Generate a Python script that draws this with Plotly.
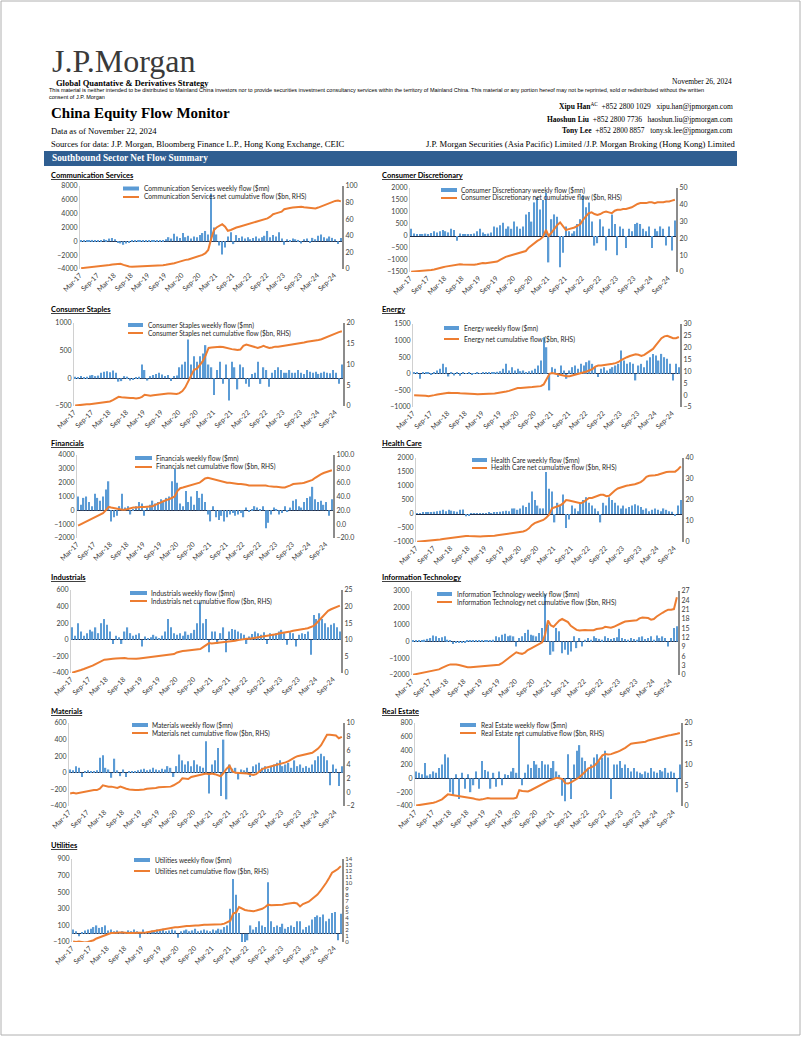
import plotly.graph_objects as go
import pandas as pd

W, H = 802, 1037
BLUE = "#5B9BD5"
ORANGE = "#ED7D31"
FONT = "Lato"
SERIF = "Liberation Serif"

# ---------------- data (monthly readings of weekly flow $mn and cumulative $bn) -------------
months = pd.date_range("2017-03-01", periods=93, freq="MS") + pd.Timedelta(days=12)
tick_labels = ["Mar-17", "Sep-17", "Mar-18", "Sep-18", "Mar-19", "Sep-19", "Mar-20", "Sep-20",
               "Mar-21", "Sep-21", "Mar-22", "Sep-22", "Mar-23", "Sep-23", "Mar-24", "Sep-24"]
tick_dates = pd.date_range("2017-03-01", periods=16, freq="6MS")

sectors = ["Communication Services", "Consumer Discretionary", "Consumer Staples", "Energy",
           "Financials", "Health Care", "Industrials", "Information Technology",
           "Materials", "Real Estate", "Utilities"]

cs_weekly = ([200, 100, 150, 100, 200, 100, 150, 200, 300, 200] +
             [400, 500, 300, -200, -300, -500, -300, -100, 100, 150, 200, 100] +
             [100, 150, 200, 100, 150, 200, 100, 200, 300, 600, 400, 1100] +
             [700, 500, 1200, 600, 800, 400, 700, 600, 900, 1200, 1500, 1000] +
             [6900, 2000, 1000, -600, -1900, -900, 700, 1300, -400, 900, 500, 700] +
             [400, 600, 300, 500, 700, 400, 600, 800, 1500, 600, 900, 700] +
             [1300, 400, -500, 300, 200, 400, 300, 200, -300, 300, 400, -200] +
             [500, 300, 800, 1000, 600, 400, 700, 500, 300, -400, 500])
cs_cum = ([1, 1.3, 1.6, 2, 2.3, 2.6, 3, 3.4, 3.8, 4.2] +
          [4.8, 5.3, 5.8, 6.5, 6.2, 5, 3.8, 3.0, 2.8, 2.9, 3.0, 3.1] +
          [3.2, 3.4, 3.5, 3.6, 3.8, 4.0, 4.3, 4.6, 5, 5.5, 6.2, 7] +
          [8, 9, 10.5, 11, 11.5, 12.5, 13.5, 14.5, 15.5, 17, 19, 23] +
          [36, 47, 50, 52, 54, 51, 46, 47, 49, 50, 51, 52] +
          [53, 54, 55, 56, 57, 58, 59, 60, 61, 63, 66, 67] +
          [68, 69, 72, 73, 73.5, 74, 74.5, 75, 75, 74.5, 74, 73.5] +
          [73, 73, 74, 75.5, 77, 78, 79.5, 81, 82, 82.5, 81.5])

cd_weekly = ([300, 100, 80, 50, 80, 100, 50, 120, 200, 150] +
             [200, 250, 200, 150, 300, 250, -200, 100, 50, 80, 60, 50] +
             [100, 200, 300, 150, 80, 100, 150, 400, 350, 450, 550, 300] +
             [400, 300, 600, 400, 300, 400, 900, 1000, 600, 1400, 1600, 1100] +
             [1500, 1800, -1100, 700, 900, 800, -1300, -700, 400, 200, 100, 200] +
             [500, 700, 1700, 1200, 1400, 600, -400, -300, 700, 400, -600, 300] +
             [900, 500, -800, 400, 300, -500, 300, 200, 500, 550, 500, 300] +
             [200, 400, -500, 300, 200, 400, 300, -400, 400, -600, 650])
cd_cum = ([0.2, 0.3, 0.5, 0.6, 0.8, 0.9, 1.0, 1.2, 1.5, 1.8] +
          [2.3, 2.8, 3.2, 3.5, 3.8, 4.2, 4.5, 4.6, 4.4, 4.3, 4.2, 4.2] +
          [4.3, 4.6, 5.0, 5.3, 5.2, 5.4, 5.6, 5.8, 6.2, 7.2, 8.2, 9.0] +
          [9.5, 10.0, 10.5, 11.0, 11.5, 11.8, 12.5, 14.5, 16.0, 17.0, 18.5, 19.5] +
          [21.0, 25.0, 21.5, 23.5, 26.0, 28.0, 29.5, 27.0, 25.0, 25.5, 26.0, 26.5] +
          [27.5, 28.5, 31.0, 33.0, 35.0, 35.5, 34.5, 34.0, 34.5, 35.5, 36.0, 35.5] +
          [35.0, 36.5, 37.0, 37.0, 37.5, 37.5, 38.0, 38.5, 39.5, 40.5, 41.0, 41.0] +
          [41.0, 41.5, 41.5, 41.0, 41.5, 41.5, 41.5, 42.0, 42.0, 42.5, 43.0])

cst_weekly = ([30, 20, 40, 20, 30, 50, 60, 40, 50, 100] +
              [120, 130, 110, 140, 100, -60, -50, 40, 30, -40, -30, 20] +
              [30, 250, 150, -40, 40, 60, 80, 100, 70, 40, 60, -50] +
              [40, 50, 200, 250, 300, 700, 250, 400, 300, 400, 450, 600] +
              [250, 200, -300, 150, 300, -100, 250, -400, 300, 200, -200, 250] +
              [200, -100, -150, 80, 100, 300, -100, 200, 150, -150, 100, 150] +
              [200, 150, 100, 100, 150, 100, 100, 150, 100, 80, 150, 120] +
              [100, 120, 80, 100, 120, 100, 90, 150, 100, -100, 250])
cst_cum = ([0.1, 0.2, 0.2, 0.3, 0.4, 0.4, 0.5, 0.6, 0.7, 0.8] +
           [0.9, 1.0, 1.1, 1.4, 1.9, 2.2, 2.1, 2.0, 2.0, 1.9, 1.9, 1.8] +
           [1.9, 2.2, 2.7, 2.6, 2.5, 2.6, 2.7, 2.8, 2.8, 2.9, 3.0, 3.0] +
           [3.0, 2.9, 3.1, 3.6, 4.5, 6.0, 7.5, 8.7, 9.0, 9.8, 10.8, 12.2] +
           [14.0, 14.1, 14.2, 14.3, 14.3, 14.2, 14.0, 13.8, 13.7, 13.6, 13.5, 13.6] +
           [14.5, 14.8, 14.6, 14.5, 14.3, 14.0, 14.2, 14.5, 14.2, 14.0, 14.1, 14.3] +
           [14.3, 14.4, 14.5, 14.6, 14.7, 14.8, 15.0, 15.1, 15.2, 15.3, 15.5, 15.6] +
           [15.6, 15.7, 15.9, 16.1, 16.4, 16.7, 17.0, 17.2, 17.5, 17.8, 18.0])

en_weekly = ([50, 30, -150, 30, 50, 30, -30, 50, 100, 150] +
             [300, 200, -80, 50, -50, 30, -60, 30, 20, 40, -20, 20] +
             [30, 20, 30, 50, 30, 40, 50, 60, 80, 150, 300, 100] +
             [200, 100, 150, 80, 100, 50, 80, 100, 150, 250, 400, 1100] +
             [800, -500, 200, 150, -100, 250, 100, -150, 100, 200, 250, 150] +
             [300, 250, 350, 400, 300, 200, -100, 150, 200, 100, 150, 200] +
             [250, 300, 700, 400, 300, 350, 300, -200, 250, 300, 200, 400] +
             [500, 600, 550, 400, 600, 500, 450, 300, -200, 300, 200])
en_cum = ([0.0, 0.0, 0.0, -0.2, -0.3, -0.5, -0.4, 0.0, 0.3, 0.5] +
          [0.8, 1.0, 1.0, 0.9, 1.0, 0.9, 0.8, 0.8, 0.7, 0.8, 0.6, 0.5] +
          [0.4, 0.4, 0.4, 0.5, 0.5, 0.6, 0.7, 0.9, 1.0, 1.3, 1.5, 1.8] +
          [2.2, 2.6, 3.0, 3.0, 3.0, 3.2, 3.3, 3.4, 3.5, 3.6, 3.8, 4.5] +
          [7.0, 9.0, 9.3, 9.0, 8.8, 8.5, 8.3, 8.0, 8.0, 8.3, 8.8, 9.0] +
          [9.3, 9.5, 10.0, 10.5, 11.0, 12.0, 12.5, 12.5, 12.6, 12.8, 13.0, 13.2] +
          [13.5, 14.0, 14.8, 15.5, 16.0, 16.5, 16.8, 17.2, 17.0, 16.5, 17.0, 17.8] +
          [18.5, 19.5, 21.0, 22.5, 24.0, 24.8, 25.0, 24.5, 24.0, 24.0, 24.5])

fin_weekly = ([1000, 400, 900, 1000, 600, 300, 1200, 900, 700, 1000] +
              [1500, 2100, -800, -500, -400, 300, 1200, 200, 300, -300, 100, 300] +
              [600, 500, -400, 200, 400, 700, 500, 600, 800, 700, 900, 1000] +
              [2100, 3000, 2000, 500, 300, 1400, 600, 1000, 400, 1400, 900, 1200] +
              [600, -300, -800, 300, -500, -700, -400, -800, -500, -300, -200, -400] +
              [-300, -200, -500, 200, -100, 100, 300, 200, 100, 300, -1300, -900] +
              [-300, 200, 100, -300, -200, 300, -100, 200, 700, 800, 300, 200] +
              [600, 900, 1000, 1700, 800, 600, 700, 400, 600, -400, 800])
fin_cum = ([-2, 0, 2, 4, 6, 8, 9, 11, 13, 16] +
           [20, 25, 24, 23, 22, 22, 21, 21, 22, 24, 24, 24] +
           [25, 25, 25, 25, 25, 26, 28, 30, 32, 34, 35, 36] +
           [38, 40, 48, 52, 53, 54, 55, 56, 57, 58, 60, 63] +
           [66, 67, 66, 65, 64, 63, 62, 61, 60, 60, 59, 59] +
           [58, 58, 58, 57, 56, 56, 56, 57, 57, 56, 56, 55] +
           [54, 54, 54, 53, 53, 53, 54, 56, 58, 58, 59, 59] +
           [60, 61, 62, 64, 67, 70, 72, 74, 75, 76, 78])

hc_weekly = ([30, 20, 40, 60, 50, 60, 80, 100, 120, 150] +
             [100, 150, 120, 100, 80, 150, 160, -80, -60, 30, 20, 30] +
             [20, 30, 20, 40, 30, 50, 60, 80, 100, 120, 100, 200] +
             [200, 150, 200, 300, 250, 400, 800, 500, 300, 200, 200, 1500] +
             [900, 800, -300, 400, 300, 700, -500, -200, 300, 200, 100, 400] +
             [500, 600, 400, 300, 200, 100, -300, 400, 300, 600, 500, 400] +
             [300, 200, 300, 200, 250, 300, 350, 300, 250, 150, 200, 100] +
             [150, 200, 150, 100, 200, 150, 100, 80, -50, 300, 500])
hc_cum = ([0.1, 0.2, 0.3, 0.4, 0.5, 0.7, 0.8, 1.0, 1.2, 1.4] +
          [1.6, 1.8, 2.0, 2.2, 2.4, 2.6, 2.8, 2.9, 2.8, 2.7, 2.7, 2.7] +
          [2.6, 2.7, 2.7, 2.8, 2.9, 3.0, 3.2, 3.4, 3.5, 3.7, 3.9, 4.0] +
          [4.2, 4.3, 4.5, 5.0, 5.5, 6.5, 8.0, 9.0, 9.5, 10.0, 10.5, 11.5] +
          [13.0, 16.0, 16.5, 17.0, 17.5, 18.5, 20.0, 19.8, 19.5, 19.0, 18.7, 18.5] +
          [19.0, 20.0, 21.0, 21.0, 21.5, 22.0, 22.5, 22.5, 21.8, 22.0, 23.5, 24.5] +
          [25.5, 26.0, 26.5, 26.8, 27.0, 27.2, 27.5, 28.0, 28.5, 29.5, 31.0, 31.5] +
          [31.5, 31.8, 32.0, 32.5, 33.0, 33.3, 33.5, 33.5, 33.5, 34.5, 36.0])

ind_weekly = ([150, 50, 200, 100, 50, 80, 120, 100, 150, 80] +
              [200, 250, 180, 100, -50, 50, 30, -50, 100, 150, 80, 50] +
              [60, 80, -80, 40, 20, 30, 60, 40, 20, 50, 100, 250] +
              [150, 80, 60, 80, 50, 100, 60, 80, 120, 200, 450, 200] +
              [250, -150, 100, 100, -50, 80, 150, -150, 100, 130, 120, 100] +
              [80, 60, -50, 40, 70, 100, 80, 60, 90, -50, 80, 60] +
              [80, 100, 120, 80, -60, 90, 80, -80, 60, 80, 70, 100] +
              [-180, 300, 250, 320, 250, 200, 150, 180, 200, 150, 100])
ind_cum = ([0.1, 0.3, 0.6, 0.9, 1.2, 1.5, 1.8, 2.2, 2.7, 3.2] +
           [3.6, 4.0, 4.1, 4.1, 4.3, 4.4, 4.5, 4.5, 4.5, 4.4, 4.3, 4.3] +
           [4.3, 4.4, 4.5, 4.5, 4.6, 4.7, 4.8, 4.9, 5.0, 5.1, 5.2, 5.4] +
           [5.5, 5.7, 6.2, 6.5, 6.6, 6.7, 6.8, 7.0, 7.1, 7.0, 7.2, 7.8] +
           [8.5, 9.0, 8.9, 9.0, 9.0, 9.0, 9.1, 9.2, 9.3, 9.5, 9.7, 9.9] +
           [10.1, 10.3, 10.3, 10.3, 10.4, 10.5, 10.7, 10.9, 11.1, 11.2, 11.4, 11.6] +
           [11.7, 11.9, 12.0, 12.1, 12.3, 12.5, 12.7, 12.8, 12.9, 13.1, 13.3, 13.5] +
           [13.8, 14.2, 15.0, 16.0, 17.0, 18.0, 18.7, 19.2, 19.6, 20.0, 20.3])

it_weekly = ([50, 40, 60, 80, 100, 150, 200, 350, 300, 200] +
             [250, 300, 100, 80, -150, -100, -100, -50, -100, 40, 30, 40] +
             [30, 50, 50, 40, 60, 80, 100, 300, 250, 400, 450, 300] +
             [350, 300, -300, 200, 300, 500, 700, 400, 350, 300, 500, 800] +
             [2800, 1000, -800, -600, 800, 600, -700, -500, -800, -600, 300, -400] +
             [200, -300, 100, 200, 100, 300, 200, 150, 100, 300, 200, 150] +
             [200, 250, 750, 200, 150, 100, 200, 150, 100, 250, 300, 150] +
             [200, 300, 100, 350, 200, 300, 200, -300, 200, 800, 900])
it_cum = ([0.1, 0.3, 0.5, 0.7, 0.9, 1.1, 1.3, 1.4, 1.6, 1.8] +
          [2.3, 2.8, 3.1, 3.4, 3.5, 3.4, 3.2, 2.9, 2.6, 2.5, 2.5, 2.6] +
          [2.6, 2.6, 2.7, 2.8, 2.9, 3.0, 3.1, 3.2, 3.3, 3.8, 4.5, 5.2] +
          [6.0, 6.8, 7.3, 7.0, 6.8, 7.2, 8.0, 8.5, 9.0, 9.3, 9.8, 10.5] +
          [13.0, 17.5, 16.0, 15.5, 16.5, 17.5, 18.0, 17.5, 17.0, 15.8, 15.0, 14.5] +
          [14.3, 14.5, 14.5, 14.4, 14.3, 14.4, 14.8, 15.0, 15.0, 15.5, 15.3, 15.2] +
          [15.5, 16.0, 16.5, 16.8, 17.2, 17.3, 17.3, 17.4, 17.6, 18.2, 18.5, 18.4] +
          [18.3, 17.8, 18.0, 18.8, 19.5, 20.0, 20.5, 21.0, 21.0, 21.2, 25.0])

mat_weekly = ([40, 30, 80, 60, -50, 20, 30, 10, 20, 30] +
              [180, 210, 60, 40, -60, 170, 30, -40, 40, -50, 20, 10] +
              [20, 30, 40, 50, 30, 40, 60, 40, 30, 50, 40, 80] +
              [60, -50, 80, 220, 150, 100, 140, 80, 150, 100, 80, 60] +
              [380, -250, 100, 150, 300, -280, 400, -320, 100, 50, 60, -80] +
              [40, 30, 60, -50, 80, 100, 120, 60, 80, 50, 70, 100] +
              [120, 150, 80, 100, 120, 60, 150, 80, 100, 60, 80, 60] +
              [100, 150, 200, 230, 200, 150, -150, 100, 50, -160, 80])
mat_cum = ([-0.2, -0.1, -0.2, -0.1, 0.0, 0.1, 0.2, 0.2, 0.3, 0.3] +
           [0.5, 1.0, 0.9, 0.8, 0.8, 0.7, 0.6, 0.8, 0.6, 0.5, 0.4, 0.3] +
           [0.3, 0.3, 0.3, 0.4, 0.5, 0.5, 0.6, 0.6, 0.7, 0.7, 0.8, 0.8] +
           [0.8, 1.0, 1.2, 1.5, 2.0, 2.0, 1.9, 2.2, 2.3, 2.4, 2.6, 2.6] +
           [2.7, 2.6, 2.7, 2.6, 2.4, 2.3, 2.8, 3.4, 3.8, 3.0, 2.8, 2.8] +
           [2.8, 2.7, 2.7, 2.6, 2.5, 2.6, 3.0, 3.3, 3.5, 3.6, 3.7, 3.8] +
           [3.9, 4.0, 4.2, 4.3, 4.5, 4.8, 5.0, 5.2, 5.3, 5.3, 5.4, 5.5] +
           [5.7, 6.0, 6.3, 6.8, 7.5, 8.3, 8.3, 8.2, 8.2, 7.8, 8.0])

re_weekly = ([100, 80, 60, 220, 40, 60, 100, 80, 150, 200] +
             [350, 300, -200, -250, 60, -300, 80, -150, 60, -200, -100, 100] +
             [-150, 250, 120, 100, -150, 80, -120, 100, -100, 60, 50, 100] +
             [150, 80, 620, -100, 80, 200, 150, 250, 200, 150, 250, 200] +
             [200, 150, 250, 100, 50, -250, -330, 350, -300, 200, 400, 480] +
             [300, 250, 150, 200, 300, 350, 250, 300, 400, 300, -300, 200] +
             [200, 250, 150, 200, 150, 100, 150, 100, 80, 60, 100, 80] +
             [150, 100, 80, 120, 100, 150, 80, 100, 80, -200, 200])
re_cum = ([0.1, 0.2, 0.4, 0.5, 0.6, 0.7, 0.8, 1.0, 1.3, 1.6] +
          [2.2, 2.8, 2.7, 2.6, 2.5, 2.4, 2.2, 2.1, 2.0, 1.9, 1.8, 1.6] +
          [1.5, 1.6, 1.8, 1.9, 1.8, 1.8, 1.7, 1.8, 1.8, 1.8, 1.7, 1.7] +
          [1.8, 2.0, 3.8, 3.6, 3.5, 3.5, 3.8, 4.2, 4.5, 4.9, 5.3, 5.8] +
          [6.0, 6.3, 6.5, 6.8, 6.7, 6.5, 5.5, 5.4, 5.7, 6.0, 6.5, 7.0] +
          [7.6, 8.3, 9.0, 9.3, 9.6, 10.3, 11.3, 12.2, 12.5, 12.4, 12.5, 12.7] +
          [13.0, 13.3, 13.6, 14.0, 14.5, 15.0, 15.1, 15.2, 15.2, 15.3, 15.5, 15.8] +
          [16.0, 16.2, 16.3, 16.5, 16.7, 16.8, 17.0, 17.1, 17.2, 17.4, 17.6])

ut_weekly = ([50, 30, -30, 20, 40, 50, 60, 80, 100, 70] +
             [80, 100, 40, 50, 30, 40, 20, 30, 20, 40, 30, 50] +
             [30, -50, 50, 20, 30, 40, 30, 50, 40, 60, 30, 40] +
             [50, 40, -50, 30, 40, 50, 30, 40, 60, 30, 40, 50] +
             [40, 30, 50, 40, 60, 50, 80, 100, 300, 660, 470, 250] +
             [-100, -100, -80, 100, 50, 80, 150, 100, 80, 620, 150, 80] +
             [100, 80, 120, 60, 80, 100, 80, 150, 150, 50, 80, 100] +
             [170, 200, 220, 200, 230, 150, 180, 250, 260, -80, 240])
ut_cum = ([0.1, 0.0, 0.1, 0.0, -0.1, 0.0, 0.1, 0.3, 0.6, 0.8] +
          [1.0, 1.2, 1.4, 1.5, 1.5, 1.6, 1.6, 1.6, 1.5, 1.5, 1.5, 1.5] +
          [1.5, 1.5, 1.5, 1.6, 1.7, 1.8, 1.9, 2.0, 2.1, 2.2, 2.3, 2.3] +
          [2.4, 2.5, 2.5, 2.6, 2.6, 2.7, 2.7, 2.8, 2.8, 2.8, 2.9, 2.9] +
          [2.9, 2.9, 2.9, 3.0, 3.0, 3.0, 3.1, 3.3, 3.6, 4.8, 5.0, 5.9] +
          [5.6, 5.4, 5.3, 5.2, 5.2, 5.3, 5.4, 5.6, 5.9, 6.3, 6.2, 6.2] +
          [6.3, 6.3, 6.3, 6.4, 6.5, 6.5, 6.6, 6.5, 6.0, 6.4, 6.6, 6.8] +
          [7.2, 7.6, 8.0, 8.6, 9.2, 10.0, 10.8, 11.7, 12.0, 12.3, 12.8])

weekly = [cs_weekly, cd_weekly, cst_weekly, en_weekly, fin_weekly, hc_weekly,
          ind_weekly, it_weekly, mat_weekly, re_weekly, ut_weekly]
cumulative = [cs_cum, cd_cum, cst_cum, en_cum, fin_cum, hc_cum,
              ind_cum, it_cum, mat_cum, re_cum, ut_cum]

# left axis (min, max, step), right axis (min, max, step)
left_ranges = [(-4000, 8000, 2000), (-1500, 2000, 500), (-500, 1000, 500), (-1000, 1500, 500),
               (-2000, 4000, 1000), (-1000, 2000, 500), (-400, 600, 200), (-2000, 3000, 1000),
               (-400, 600, 200), (-400, 800, 200), (-100, 900, 200)]
right_ranges = [(0, 100, 20), (0, 50, 10), (0, 20, 5), (-5, 30, 5), (-20, 100, 20), (0, 40, 10),
                (0, 25, 5), (0, 27, 3), (-2, 10, 2), (0, 20, 5), (0, 14, 1)]

# ---------------- layout geometry (pixels) ----------------
boxes = [(80, 342, 186, 269), (410, 676, 188, 272), (74, 343, 323, 406), (413, 680, 324, 407),
         (77, 333, 455, 538), (416, 682, 458, 542), (71, 341, 590, 673), (412, 678, 591, 675),
         (69, 343, 723, 806), (415, 681, 723, 806), (72, 342, 859, 942)]
title_pos = [(49, 176), (380, 176), (49, 309), (380, 309), (49, 443), (380, 443),
             (49, 577), (380, 577), (49, 711), (380, 711), (49, 845)]
legend_pos = [(123, 139, 188.5, 197, 142), (441, 457, 190, 198, 459), (128, 143, 325, 333, 146),
              (444, 459, 328, 339, 462), (135, 152, 458, 467, 154), (472, 487, 460, 468, 489),
              (130, 147, 593, 601, 149), (437, 452, 594, 602, 455), (132, 148, 725, 733, 150),
              (460, 476, 725, 733, 479), (134, 150, 860, 871, 153)]


def px(x):
    return x / W


def py(y):
    return 1 - y / H


fig = go.Figure()
layout = {}
annotations = []
shapes = []
TICKFONT = dict(family=FONT, size=7, color="#404040")
LEGFONT = dict(family=FONT, size=6.6, color="#262626")

for i, name in enumerate(sectors):
    n = i + 1
    xa = "x" if n == 1 else f"x{n}"
    ya = "y" if n == 1 else f"y{2 * i + 1}"
    ya2 = f"y{2 * i + 2}"
    L, R, T, B = boxes[i]
    fig.add_trace(go.Bar(x=months, y=weekly[i], xaxis=xa, yaxis=ya, marker_color=BLUE,
                         marker_line_width=0, showlegend=False))
    fig.add_trace(go.Scatter(x=months, y=cumulative[i], xaxis=xa, yaxis=ya2, mode="lines",
                             line=dict(color=ORANGE, width=2), showlegend=False))
    lmin, lmax, lstep = left_ranges[i]
    rmin, rmax, rstep = right_ranges[i]
    layout["xaxis" if n == 1 else f"xaxis{n}"] = dict(
        domain=[px(L), px(R)], anchor=ya, type="date", automargin=False,
        range=["2017-03-01", "2024-11-25"], tickvals=list(tick_dates), ticktext=tick_labels,
        tickangle=-45, showline=False, showgrid=False, zeroline=False, ticks="",
        tickfont=TICKFONT, fixedrange=True)
    layout["yaxis" if n == 1 else f"yaxis{2 * i + 1}"] = dict(
        domain=[py(B), py(T)], anchor=xa, range=[lmin, lmax], dtick=lstep, tick0=lmin,
        automargin=False, showgrid=False, zeroline=True, zerolinecolor="#1f2a44",
        zerolinewidth=1, showline=True, linecolor="#d0d0d0", linewidth=1, ticks="",
        tickfont=TICKFONT, fixedrange=True)
    layout[f"yaxis{2 * i + 2}"] = dict(
        domain=[py(B), py(T)], anchor=xa, overlaying=ya, side="right", automargin=False,
        range=[rmin, rmax], dtick=rstep, tick0=rmin, showgrid=False, zeroline=False,
        showline=True, linecolor="#8c8c8c", linewidth=2, ticks="",
        tickformat=".1f" if name == "Financials" else "",
        tickfont=dict(family=FONT, size=6 if name == "Utilities" else 7, color="#404040"),
        fixedrange=True)
    # title
    tx, ty = title_pos[i]
    annotations.append(dict(x=px(tx), y=py(ty), xref="paper", yref="paper", xanchor="left",
                            yanchor="middle", showarrow=False,
                            text=f"<b><u>{name}</u></b>",
                            font=dict(family=FONT, size=7.5, color="#000000")))
    # legend
    bx0, bx1, yb, yl, txx = legend_pos[i]
    shapes.append(dict(type="rect", xref="paper", yref="paper", x0=px(bx0), x1=px(bx1),
                       y0=py(yb + 2), y1=py(yb - 2), fillcolor=BLUE, line_width=0))
    shapes.append(dict(type="line", xref="paper", yref="paper", x0=px(bx0), x1=px(bx1),
                       y0=py(yl), y1=py(yl), line=dict(color=ORANGE, width=2)))
    annotations.append(dict(x=px(txx), y=py(yb), xref="paper", yref="paper", xanchor="left",
                            yanchor="middle", showarrow=False,
                            text=f"{name} weekly flow ($mn)", font=LEGFONT))
    annotations.append(dict(x=px(txx), y=py(yl), xref="paper", yref="paper", xanchor="left",
                            yanchor="middle", showarrow=False,
                            text=f"{name} net cumulative flow ($bn, RHS)", font=LEGFONT))


def header(x, y, text, size, anchor="left", family=SERIF, color="#000000"):
    annotations.append(dict(x=px(x), y=py(y), xref="paper", yref="paper", xanchor=anchor,
                            yanchor="middle", showarrow=False, text=text,
                            font=dict(family=family, size=size, color=color)))


header(50, 61, "J.P.Morgan", 32, color="#3a3a3a")
header(54, 83, "<b>Global Quantative &amp; Derivatives Strategy</b>", 8.5)
header(734, 82, "November 26, 2024", 7.5, anchor="right")
header(47, 90, "This material is neither intended to be distributed to Mainland China investors nor to "
               "provide securities investment consultancy services within the territory of Mainland "
               "China. This material or any portion hereof may not be reprinted, sold or redistributed "
               "without the written", 5.5, family="Liberation Sans")
header(47, 97, "consent of J.P. Morgan", 5.5, family="Liberation Sans")
header(49, 113, "<b>China Equity Flow Monitor</b>", 15)
header(49, 131, "Data as of November 22, 2024", 8.6)
header(49, 144, "Sources for data: J.P. Morgan, Bloomberg Finance L.P., Hong Kong Exchange, CEIC", 8.6)
header(735, 106, "<b>Xipu Han</b><sup>AC</sup>  +852 2800 1029   xipu.han@jpmorgan.com", 7.5, anchor="right")
header(735, 119, "<b>Haoshun Liu</b>  +852 2800 7736   haoshun.liu@jpmorgan.com", 7.5, anchor="right")
header(735, 131, "<b>Tony Lee</b>  +852 2800 8857   tony.sk.lee@jpmorgan.com", 7.5, anchor="right")
header(737, 144, "J.P. Morgan Securities (Asia Pacific) Limited /J.P. Morgan Broking (Hong Kong) Limited",
       8.6, anchor="right")

shapes.append(dict(type="rect", xref="paper", yref="paper", x0=px(44), x1=px(737),
                   y0=py(166), y1=py(151), fillcolor="#2F5E91", line_width=0, layer="below"))
header(50, 158.5, "<b>Southbound Sector Net Flow Summary</b>", 9.3, color="#ffffff")
shapes.append(dict(type="rect", xref="paper", yref="paper", x0=px(1), x1=px(800),
                   y0=py(1035), y1=py(1), line=dict(color="#b0b0b0", width=1), layer="below"))

fig.update_layout(width=W, height=H, autosize=False,
                  margin=dict(l=0, r=0, t=0, b=0, pad=0, autoexpand=False),
                  paper_bgcolor="white", plot_bgcolor="rgba(0,0,0,0)", showlegend=False,
                  bargap=0.5, annotations=annotations, shapes=shapes, **layout)

fig.write_html("out.html", config={"displayModeBar": False},
               post_script="document.body.style.margin='0';")
